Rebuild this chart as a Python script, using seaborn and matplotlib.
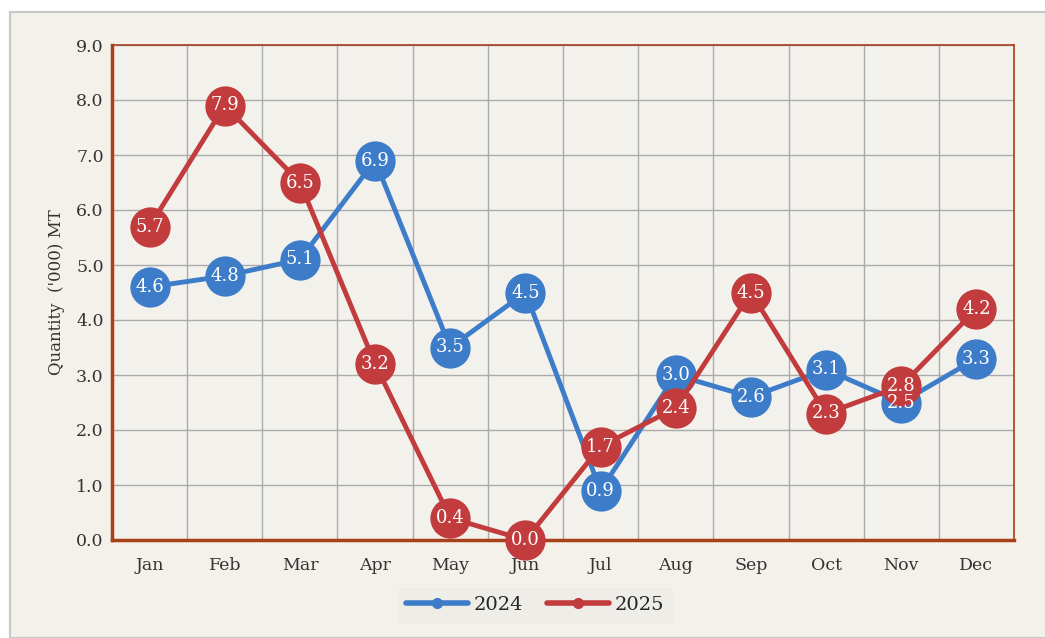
import numpy as np
import pandas as pd
import matplotlib
matplotlib.use("Agg")
import matplotlib.pyplot as plt
import seaborn as sns
from matplotlib.patches import Rectangle

months = ["Jan", "Feb", "Mar", "Apr", "May", "Jun", "Jul", "Aug", "Sep", "Oct", "Nov", "Dec"]
qty_2024 = [4.6, 4.8, 5.1, 6.9, 3.5, 4.5, 0.9, 3.0, 2.6, 3.1, 2.5, 3.3]
qty_2025 = [5.7, 7.9, 6.5, 3.2, 0.4, 0.0, 1.7, 2.4, 4.5, 2.3, 2.8, 4.2]
years = ["2024", "2025"]
colors = {"2024": "#3d7cc9", "2025": "#c23b3d"}

df = pd.DataFrame({
    "month_idx": list(range(12)) * 2,
    "qty": qty_2024 + qty_2025,
    "year": ["2024"] * 12 + ["2025"] * 12,
})

sns.set_theme(style="white")
plt.rcParams["font.family"] = ["DejaVu Serif"]

fig = plt.figure(figsize=(10.45, 6.38), dpi=100)
fig.patch.set_facecolor("white")
# beveled panel background
fig.patches.append(Rectangle((10 / 1045, 0), 1, 1 - 12 / 638, transform=fig.transFigure,
                             facecolor="#f4f1eb", edgecolor="#c8c8c8", lw=1.5, zorder=-2))

ax = fig.add_axes([112 / 1045, 1 - 540 / 638, (1014 - 112) / 1045, (540 - 45) / 638])
ax.set_facecolor("#f3f1ec")

sns.lineplot(data=df, x="month_idx", y="qty", hue="year", palette=colors,
             hue_order=years, lw=3.5, marker="o", markersize=29,
             markeredgewidth=0, ax=ax, legend=False, zorder=3, clip_on=False)

for yr, vals in zip(years, [qty_2024, qty_2025]):
    for i, v in enumerate(vals):
        ax.text(i, v, f"{v:.1f}", color="white", ha="center", va="center",
                fontsize=13, zorder=5, clip_on=False)

ax.set_xlim(-0.5, 11.5)
ax.set_ylim(0, 9)
ax.set_yticks(np.arange(0, 9.1, 1.0))
ax.set_yticklabels([f"{t:.1f}" for t in np.arange(0, 9.1, 1.0)], fontsize=12.5, color="#333333")
ax.set_xticks(range(12))
ax.set_xticklabels(months, fontsize=12.5, color="#333333")
ax.set_xticks(np.arange(-0.5, 12, 1), minor=True)
ax.tick_params(axis="x", which="major", length=0, pad=12)
ax.tick_params(axis="x", which="minor", length=4, width=2, color="#a8401a", direction="out")
ax.tick_params(axis="y", length=0, pad=6)
ax.grid(True, which="minor", axis="x", color="#aaaaaa", lw=1)
ax.grid(True, which="major", axis="y", color="#aaaaaa", lw=1)
ax.set_axisbelow(True)
ax.set_xlabel("")
ax.set_ylabel("Quantity  ('000) MT", fontsize=12, color="#333333", labelpad=8)

for side in ["left", "bottom"]:
    ax.spines[side].set_color("#a8401a")
    ax.spines[side].set_linewidth(2.5)
for side in ["top", "right"]:
    ax.spines[side].set_color("#a8401a")
    ax.spines[side].set_linewidth(1.2)

handles = [plt.Line2D([], [], color=colors[y], lw=4, marker="o", markersize=7) for y in years]
leg = fig.legend(handles, years, loc="center", bbox_to_anchor=(535 / 1045, 1 - 605 / 638),
                 ncol=2, frameon=True, fontsize=14, handlelength=3.2, handletextpad=0.3,
                 columnspacing=1.2)
leg.get_frame().set_facecolor("#eeece8")
leg.get_frame().set_edgecolor("#eeece8")

fig.savefig("out.png", dpi=100)
